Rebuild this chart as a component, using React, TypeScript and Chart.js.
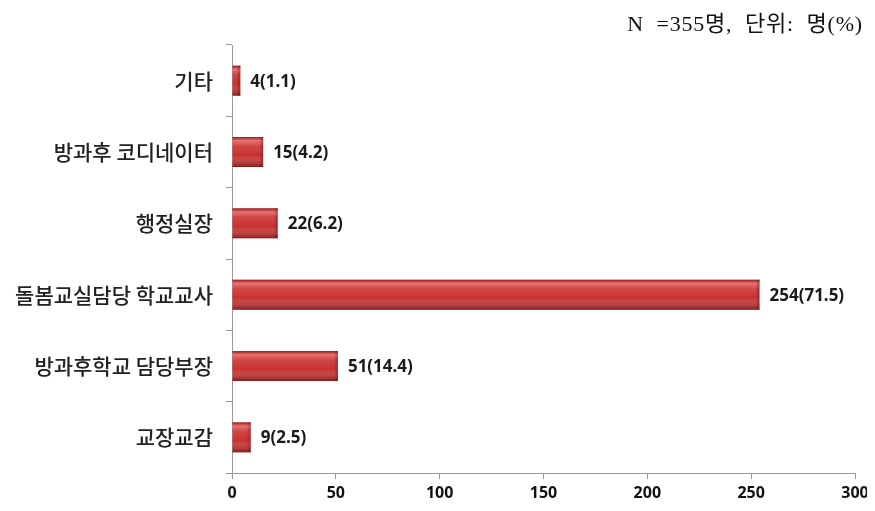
import React, { useEffect, useRef } from "react";
import { Chart, registerables } from "chart.js";

Chart.register(...registerables);

const categories = ["기타", "방과후 코디네이터", "행정실장", "돌봄교실담당 학교교사", "방과후학교 담당부장", "교장교감"];
const counts = [4, 15, 22, 254, 51, 9];
const percents = ["1.1", "4.2", "6.2", "71.5", "14.4", "2.5"];
const xTicks = [0, 50, 100, 150, 200, 250, 300];
const noteText = "N  =355명,  단위:  명(%)";

const barStyle = {
  id: "barStyle",
  afterDatasetsDraw(chart: any) {
    const ctx = chart.ctx;
    const meta = chart.getDatasetMeta(0);
    meta.data.forEach((el: any, i: number) => {
      const p = el.getProps(["x", "y", "base", "height"], true);
      const top = p.y - p.height / 2;
      const left = Math.min(p.base, p.x);
      const w = Math.abs(p.x - p.base);
      const g = ctx.createLinearGradient(0, top, 0, top + p.height);
      g.addColorStop(0, "rgba(110,10,10,0.45)");
      g.addColorStop(0.12, "rgba(255,170,170,0.55)");
      g.addColorStop(0.3, "rgba(255,190,190,0.15)");
      g.addColorStop(0.6, "rgba(255,255,255,0)");
      g.addColorStop(1, "rgba(70,0,0,0.5)");
      ctx.save();
      ctx.fillStyle = g;
      ctx.fillRect(left, top, w, p.height);
      const g2 = ctx.createLinearGradient(left + w - 4, 0, left + w, 0);
      g2.addColorStop(0, "rgba(80,0,0,0)");
      g2.addColorStop(1, "rgba(80,0,0,0.35)");
      ctx.fillStyle = g2;
      ctx.fillRect(Math.max(left, left + w - 4), top, Math.min(4, w), p.height);
      ctx.restore();

      ctx.save();
      ctx.font = "bold 17px 'Noto Sans', 'Noto Sans CJK KR', sans-serif";
      ctx.fillStyle = "#1a1a1a";
      ctx.textAlign = "left";
      ctx.textBaseline = "middle";
      ctx.fillText(`${counts[i]}(${percents[i]})`, p.x + 10, p.y + 1);
      ctx.restore();
    });
  },
};

export default function App() {
  const ref = useRef<HTMLCanvasElement | null>(null);
  useEffect(() => {
    if (!ref.current) return;
    const chart = new Chart(ref.current, {
      type: "bar",
      data: {
        labels: categories,
        datasets: [
          {
            data: counts,
            backgroundColor: "#c83030",
            borderWidth: 0,
            barPercentage: 0.84,
            categoryPercentage: 0.5,
          },
        ],
      },
      options: {
        indexAxis: "y",
        animation: false,
        responsive: false,
        maintainAspectRatio: false,
        layout: { padding: { top: 45, right: 20, left: 0, bottom: 0 } },
        plugins: { legend: { display: false }, tooltip: { enabled: false } },
        scales: {
          x: {
            min: 0,
            max: 300,
            afterBuildTicks: (s: any) => {
              s.ticks = xTicks.map((v) => ({ value: v }));
            },
            afterFit: (s: any) => {
              s.height = 38;
            },
            grid: { drawOnChartArea: false, tickLength: 6, color: "#999" },
            border: { display: true, color: "#999" },
            ticks: {
              color: "#111",
              padding: 5,
              font: { family: "'Noto Sans', sans-serif", size: 16, weight: "bold" },
            },
          },
          y: {
            afterFit: (s: any) => {
              s.width = 232;
            },
            grid: { drawOnChartArea: false, offset: true, tickLength: 6, color: "#999" },
            border: { display: true, color: "#999" },
            ticks: {
              color: "#222",
              padding: 13,
              font: { family: "'Noto Sans CJK KR', sans-serif", size: 21, weight: "500" },
            },
          },
        },
      },
      plugins: [barStyle],
    } as any);
    return () => chart.destroy();
  }, []);
  return (
    <div style={{ position: "relative", width: 875, height: 511, margin: -8 }}>
      <canvas ref={ref} width={875} height={511} style={{ display: "block" }} />
      <div
        style={{
          position: "absolute",
          right: 12,
          top: 5,
          fontFamily: "'Liberation Serif', 'Noto Sans CJK KR', serif",
          fontSize: 22,
          color: "#111",
          whiteSpace: "pre",
          letterSpacing: 0.8,
        }}
      >
        {noteText}
      </div>
    </div>
  );
}
